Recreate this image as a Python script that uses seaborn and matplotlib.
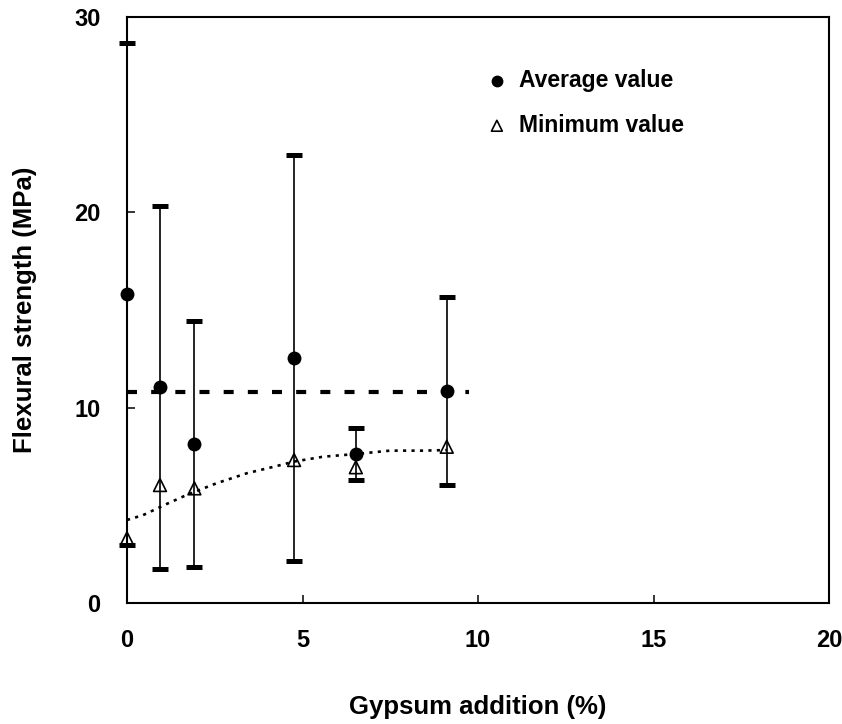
import matplotlib
matplotlib.use("Agg")
import matplotlib.pyplot as plt
import seaborn as sns
import pandas as pd

# Gypsum addition levels (%)
gypsum = [0.0, 0.94, 1.92, 4.76, 6.52, 9.11]
# Flexural strength (MPa)
avg_strength = [15.8, 11.04, 8.14, 12.55, 7.63, 10.87]
avg_error = [12.85, 9.28, 6.3, 10.4, 1.32, 4.82]
min_strength = [3.31, 6.04, 5.87, 7.32, 6.95, 8.0]

# Trend through the minimum values
trend_x = [0.0, 0.46, 1.13, 1.70, 2.55, 3.41, 4.26, 4.76, 5.59, 6.54, 7.49, 8.44, 9.11]
trend_y = [4.25, 4.5, 5.07, 5.53, 6.13, 6.64, 7.01, 7.24, 7.49, 7.63, 7.80, 7.80, 7.83]

# Reference level (horizontal dashed line)
ref_x = [0.0, 9.75]
ref_y = [10.8, 10.8]

x_ticks = [0, 5, 10, 15, 20]
y_ticks = [0, 10, 20, 30]

sns.set_theme(style="white")
plt.rcParams["font.family"] = ["Liberation Sans", "DejaVu Sans"]
plt.rcParams["font.weight"] = "bold"
plt.rcParams["text.color"] = "black"
plt.rcParams["axes.labelcolor"] = "black"

df = pd.DataFrame({"gypsum": gypsum, "avg": avg_strength,
                   "err": avg_error, "min": min_strength})

fig = plt.figure(figsize=(8.42, 7.24), dpi=100)
ax = fig.add_axes([127 / 842, 1 - 603 / 724, (829 - 127) / 842, (603 - 17) / 724])

sns.lineplot(x=ref_x, y=ref_y, ax=ax, color="black", lw=3.0,
             linestyle=(0, (2.4, 3.4)), zorder=1)
sns.lineplot(x=trend_x, y=trend_y, ax=ax, color="black", lw=1.9,
             linestyle=(0, (1.2, 2.0)), sort=False, zorder=1)

eb = ax.errorbar(df["gypsum"], df["avg"], yerr=df["err"], fmt="none",
                 ecolor="black", elinewidth=1.2, capsize=5.8, capthick=3.6,
                 zorder=2)
for art in eb.lines[1] + eb.lines[2]:
    art.set_clip_on(False)

sns.scatterplot(data=df, x="gypsum", y="avg", ax=ax, marker="o", s=100,
                color="black", edgecolor="black", linewidth=0,
                label="Average value", zorder=4, clip_on=False)
sns.scatterplot(data=df, x="gypsum", y="min", ax=ax, marker="^", s=85,
                color="black", facecolor="none", edgecolor="black",
                linewidth=1.2, label="Minimum value", zorder=4, clip_on=False)

ax.set_xlim(0, 20)
ax.set_ylim(0, 30)
ax.set_xticks(x_ticks)
ax.set_yticks(y_ticks)
ax.tick_params(axis="both", direction="in", length=6, width=1.1,
               labelsize=17, pad=19, colors="black")
ax.tick_params(axis="both", which="both", top=False, right=False,
               bottom=True, left=True)
for lbl in ax.get_xticklabels() + ax.get_yticklabels():
    lbl.set_fontweight("bold")

for sp in ax.spines.values():
    sp.set_visible(True)
    sp.set_color("black")
    sp.set_linewidth(1.5)

ax.set_xlabel("Gypsum addition (%)", fontsize=18.5, fontweight="bold",
              labelpad=31, color="black")
ax.set_ylabel("Flexural strength (MPa)", fontsize=18.5, fontweight="bold",
              labelpad=27, color="black")

leg = ax.legend(loc="upper left", bbox_to_anchor=(490 / 842, 1 - 69 / 724),
                bbox_transform=fig.transFigure, frameon=False,
                prop={"size": 16.5, "weight": "bold"}, handlelength=0.6,
                handletextpad=0.65, labelspacing=0.95, borderpad=0,
                borderaxespad=0, markerscale=0.85)
for t in leg.get_texts():
    t.set_color("black")

ax.grid(False)
fig.savefig("out.png", dpi=100)
